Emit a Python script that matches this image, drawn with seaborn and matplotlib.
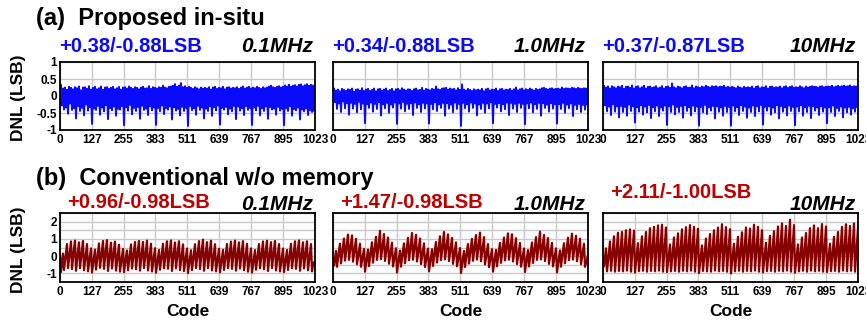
import numpy as np
import matplotlib
matplotlib.use('Agg')
import matplotlib.pyplot as plt
import seaborn as sns

# x axis: output code (256 sampled codes across the 10-bit range)
codes = np.linspace(0, 1023, 256)
code_ticks = [0, 127, 255, 383, 511, 639, 767, 895, 1023]

# (a) proposed in-situ, DNL in LSB
insitu_01mhz = [
    -0.30, 0.33, -0.28, 0.22, -0.40, 0.25, -0.34, 0.18, -0.52, 0.27, -0.22, 0.24, -0.41, 0.20, -0.36, 0.26,
    -0.66, 0.23, -0.30, 0.28, -0.44, 0.17, -0.35, 0.25, -0.57, 0.26, -0.25, 0.21, -0.43, 0.29, -0.33, 0.19,
    -0.82, 0.24, -0.37, 0.27, -0.41, 0.20, -0.29, 0.23, -0.55, 0.28, -0.34, 0.18, -0.45, 0.25, -0.27, 0.26,
    -0.68, 0.21, -0.36, 0.24, -0.42, 0.27, -0.31, 0.20, -0.58, 0.23, -0.38, 0.27, -0.40, 0.19, -0.30, 0.25,
    -0.86, 0.26, -0.33, 0.22, -0.43, 0.28, -0.26, 0.24, -0.54, 0.21, -0.35, 0.26, -0.44, 0.24, -0.32, 0.20,
    -0.67, 0.25, -0.29, 0.27, -0.41, 0.22, -0.37, 0.23, -0.56, 0.29, -0.30, 0.21, -0.42, 0.26, -0.34, 0.24,
    -0.85, 0.22, -0.35, 0.26, -0.45, 0.24, -0.28, 0.30, -0.53, 0.25, -0.36, 0.23, -0.40, 0.27, -0.31, 0.28,
    -0.69, 0.30, -0.33, 0.35, -0.43, 0.27, -0.38, 0.31, -0.57, 0.38, -0.32, 0.26, -0.44, 0.29, -0.35, 0.24,
    -0.88, 0.27, -0.30, 0.24, -0.42, 0.21, -0.36, 0.26, -0.55, 0.23, -0.29, 0.20, -0.41, 0.25, -0.34, 0.22,
    -0.66, 0.24, -0.37, 0.22, -0.44, 0.26, -0.30, 0.19, -0.58, 0.25, -0.33, 0.27, -0.42, 0.21, -0.28, 0.24,
    -0.84, 0.23, -0.35, 0.27, -0.40, 0.20, -0.32, 0.25, -0.54, 0.26, -0.37, 0.22, -0.45, 0.24, -0.29, 0.23,
    -0.68, 0.26, -0.31, 0.21, -0.43, 0.25, -0.36, 0.28, -0.56, 0.22, -0.30, 0.25, -0.41, 0.27, -0.35, 0.22,
    -0.85, 0.25, -0.34, 0.23, -0.42, 0.27, -0.29, 0.24, -0.57, 0.21, -0.36, 0.26, -0.44, 0.23, -0.31, 0.25,
    -0.67, 0.28, -0.33, 0.30, -0.40, 0.26, -0.37, 0.24, -0.55, 0.27, -0.32, 0.29, -0.43, 0.25, -0.38, 0.27,
    -0.86, 0.31, -0.36, 0.28, -0.44, 0.33, -0.30, 0.27, -0.58, 0.30, -0.39, 0.32, -0.42, 0.28, -0.34, 0.33,
    -0.69, 0.34, -0.40, 0.29, -0.45, 0.32, -0.37, 0.35, -0.56, 0.30, -0.42, 0.33, -0.47, 0.31, -0.44, 0.28,
]
insitu_1mhz = [
    -0.25, 0.22, -0.18, 0.16, -0.38, 0.19, -0.22, 0.14, -0.47, 0.21, -0.16, 0.18, -0.36, 0.15, -0.21, 0.20,
    -0.55, 0.18, -0.20, 0.22, -0.37, 0.13, -0.23, 0.19, -0.48, 0.20, -0.17, 0.16, -0.39, 0.23, -0.22, 0.15,
    -0.80, 0.19, -0.24, 0.21, -0.35, 0.15, -0.19, 0.18, -0.46, 0.22, -0.23, 0.14, -0.38, 0.20, -0.18, 0.21,
    -0.57, 0.16, -0.24, 0.19, -0.36, 0.22, -0.20, 0.15, -0.49, 0.18, -0.25, 0.21, -0.34, 0.14, -0.19, 0.20,
    -0.82, 0.21, -0.22, 0.17, -0.37, 0.23, -0.17, 0.19, -0.45, 0.16, -0.23, 0.20, -0.38, 0.19, -0.21, 0.15,
    -0.56, 0.20, -0.19, 0.22, -0.35, 0.17, -0.24, 0.18, -0.47, 0.24, -0.20, 0.16, -0.36, 0.21, -0.22, 0.19,
    -0.81, 0.17, -0.23, 0.21, -0.39, 0.19, -0.18, 0.28, -0.44, 0.20, -0.24, 0.18, -0.35, 0.22, -0.20, 0.23,
    -0.58, 0.24, -0.21, 0.19, -0.37, 0.22, -0.25, 0.20, -0.48, 0.21, -0.19, 0.17, -0.38, 0.23, -0.23, 0.18,
    -0.88, 0.34, -0.20, 0.19, -0.36, 0.16, -0.24, 0.21, -0.46, 0.18, -0.19, 0.15, -0.35, 0.20, -0.22, 0.17,
    -0.57, 0.19, -0.25, 0.17, -0.38, 0.21, -0.20, 0.14, -0.49, 0.20, -0.22, 0.22, -0.36, 0.16, -0.18, 0.19,
    -0.80, 0.18, -0.23, 0.22, -0.34, 0.15, -0.21, 0.20, -0.45, 0.21, -0.24, 0.17, -0.39, 0.19, -0.19, 0.18,
    -0.56, 0.21, -0.20, 0.16, -0.37, 0.20, -0.23, 0.25, -0.47, 0.17, -0.20, 0.20, -0.35, 0.22, -0.23, 0.17,
    -0.83, 0.20, -0.22, 0.18, -0.36, 0.22, -0.19, 0.19, -0.48, 0.16, -0.24, 0.21, -0.38, 0.18, -0.20, 0.20,
    -0.58, 0.23, -0.21, 0.24, -0.35, 0.21, -0.25, 0.19, -0.46, 0.22, -0.21, 0.23, -0.37, 0.20, -0.24, 0.21,
    -0.81, 0.22, -0.24, 0.20, -0.38, 0.25, -0.20, 0.21, -0.49, 0.23, -0.25, 0.22, -0.36, 0.21, -0.22, 0.24,
    -0.59, 0.23, -0.26, 0.21, -0.39, 0.24, -0.23, 0.22, -0.47, 0.21, -0.26, 0.23, -0.40, 0.22, -0.25, 0.19,
]
insitu_10mhz = [
    -0.35, 0.30, -0.27, 0.25, -0.45, 0.28, -0.31, 0.22, -0.56, 0.29, -0.24, 0.26, -0.46, 0.23, -0.30, 0.28,
    -0.63, 0.26, -0.29, 0.30, -0.47, 0.21, -0.32, 0.27, -0.58, 0.28, -0.25, 0.24, -0.44, 0.31, -0.30, 0.22,
    -0.78, 0.27, -0.33, 0.29, -0.46, 0.23, -0.27, 0.26, -0.55, 0.30, -0.31, 0.22, -0.48, 0.27, -0.26, 0.28,
    -0.65, 0.24, -0.33, 0.26, -0.45, 0.29, -0.28, 0.23, -0.59, 0.25, -0.34, 0.29, -0.43, 0.22, -0.28, 0.27,
    -0.85, 0.28, -0.30, 0.24, -0.47, 0.37, -0.25, 0.26, -0.54, 0.23, -0.32, 0.28, -0.47, 0.26, -0.29, 0.23,
    -0.64, 0.27, -0.27, 0.29, -0.44, 0.24, -0.33, 0.25, -0.57, 0.31, -0.28, 0.23, -0.45, 0.28, -0.31, 0.26,
    -0.87, 0.24, -0.32, 0.28, -0.48, 0.26, -0.26, 0.30, -0.53, 0.27, -0.33, 0.25, -0.43, 0.29, -0.29, 0.27,
    -0.66, 0.29, -0.30, 0.26, -0.46, 0.28, -0.34, 0.27, -0.58, 0.30, -0.29, 0.25, -0.47, 0.27, -0.32, 0.24,
    -0.87, 0.27, -0.28, 0.25, -0.45, 0.23, -0.33, 0.28, -0.56, 0.25, -0.27, 0.23, -0.44, 0.27, -0.31, 0.24,
    -0.64, 0.26, -0.34, 0.24, -0.47, 0.28, -0.28, 0.22, -0.59, 0.27, -0.30, 0.29, -0.45, 0.23, -0.26, 0.26,
    -0.84, 0.25, -0.32, 0.29, -0.43, 0.22, -0.30, 0.27, -0.55, 0.28, -0.34, 0.24, -0.48, 0.26, -0.27, 0.25,
    -0.66, 0.28, -0.29, 0.23, -0.46, 0.27, -0.33, 0.29, -0.57, 0.24, -0.28, 0.27, -0.44, 0.29, -0.32, 0.24,
    -0.86, 0.26, -0.31, 0.25, -0.45, 0.29, -0.27, 0.26, -0.58, 0.23, -0.33, 0.28, -0.47, 0.25, -0.29, 0.27,
    -0.65, 0.29, -0.30, 0.27, -0.43, 0.27, -0.34, 0.25, -0.56, 0.28, -0.30, 0.29, -0.46, 0.26, -0.34, 0.27,
    -0.80, 0.28, -0.33, 0.27, -0.47, 0.30, -0.28, 0.26, -0.59, 0.28, -0.35, 0.30, -0.44, 0.27, -0.31, 0.29,
    -0.63, 0.30, -0.34, 0.28, -0.48, 0.29, -0.32, 0.31, -0.55, 0.27, -0.36, 0.29, -0.46, 0.28, -0.33, 0.30,
]

# (b) conventional w/o memory, DNL in LSB
conv_01mhz = [
    0.00, -0.92, -0.40, 0.15, -0.80, -0.30, 0.20, 0.70, -0.70, -0.20, 0.35, 0.85, -0.75, -0.15, 0.45, 0.90,
    -0.85, -0.25, 0.30, 0.80, -0.70, -0.15, 0.40, 0.88, -0.82, -0.30, 0.20, 0.70, -0.88, -0.45, 0.00, 0.45,
    -0.95, -0.52, -0.06, 0.38, -0.78, -0.28, 0.24, 0.74, -0.68, -0.18, 0.38, 0.88, -0.74, -0.12, 0.48, 0.93,
    -0.86, -0.26, 0.28, 0.78, -0.72, -0.16, 0.38, 0.84, -0.84, -0.32, 0.18, 0.66, -0.90, -0.46, -0.02, 0.42,
    -0.93, -0.48, -0.03, 0.33, -0.82, -0.32, 0.18, 0.68, -0.72, -0.22, 0.33, 0.82, -0.76, -0.16, 0.44, 0.88,
    -0.84, -0.24, 0.32, 0.82, -0.69, -0.14, 0.42, 0.90, -0.83, -0.31, 0.21, 0.72, -0.89, -0.44, 0.01, 0.46,
    -0.96, -0.51, -0.07, 0.36, -0.79, -0.29, 0.22, 0.72, -0.71, -0.21, 0.36, 0.86, -0.73, -0.14, 0.46, 0.91,
    -0.86, -0.27, 0.29, 0.79, -0.71, -0.15, 0.39, 0.86, -0.81, -0.29, 0.19, 0.68, -0.87, -0.43, 0.02, 0.44,
    -0.98, -0.53, -0.04, 0.34, -0.81, -0.31, 0.19, 0.69, -0.69, -0.19, 0.37, 0.87, -0.75, -0.13, 0.47, 0.96,
    -0.85, -0.25, 0.31, 0.81, -0.70, -0.14, 0.41, 0.89, -0.83, -0.31, 0.19, 0.69, -0.88, -0.45, -0.01, 0.43,
    -0.94, -0.49, -0.05, 0.37, -0.80, -0.30, 0.21, 0.71, -0.70, -0.20, 0.34, 0.84, -0.74, -0.16, 0.45, 0.90,
    -0.84, -0.26, 0.30, 0.80, -0.72, -0.16, 0.39, 0.87, -0.82, -0.30, 0.20, 0.71, -0.90, -0.46, 0.00, 0.45,
    -0.95, -0.50, -0.06, 0.35, -0.79, -0.29, 0.20, 0.70, -0.71, -0.19, 0.36, 0.85, -0.76, -0.15, 0.44, 0.89,
    -0.86, -0.24, 0.31, 0.81, -0.70, -0.15, 0.40, 0.88, -0.83, -0.31, 0.19, 0.70, -0.89, -0.44, 0.01, 0.44,
    -0.93, -0.51, -0.05, 0.36, -0.80, -0.30, 0.21, 0.72, -0.70, -0.21, 0.35, 0.86, -0.74, -0.14, 0.45, 0.91,
    -0.85, -0.26, 0.29, 0.80, -0.71, -0.16, 0.39, 0.86, -0.82, -0.30, 0.20, 0.70, -0.88, -0.50, -0.35, -0.30,
]
conv_1mhz = [
    -0.10, -0.55, -0.10, 0.30, -0.62, -0.12, 0.33, 0.72, -0.42, 0.08, 0.58, 1.02, -0.26, 0.22, 0.78, 1.25,
    -0.22, 0.24, 0.72, 1.20, -0.32, 0.12, 0.58, 1.00, -0.47, -0.06, 0.33, 0.72, -0.62, -0.27, 0.08, 0.42,
    -0.90, -0.46, -0.04, 0.38, -0.58, -0.08, 0.38, 0.80, -0.38, 0.12, 0.64, 1.12, -0.22, 0.30, 0.88, 1.47,
    -0.18, 0.28, 0.78, 1.28, -0.28, 0.16, 0.62, 1.08, -0.44, -0.04, 0.36, 0.78, -0.60, -0.24, 0.12, 0.46,
    -0.95, -0.50, -0.08, 0.32, -0.61, -0.11, 0.34, 0.74, -0.41, 0.09, 0.60, 1.06, -0.24, 0.26, 0.82, 1.34,
    -0.21, 0.26, 0.76, 1.24, -0.31, 0.14, 0.59, 1.02, -0.46, -0.05, 0.34, 0.74, -0.63, -0.26, 0.09, 0.43,
    -0.88, -0.44, -0.03, 0.40, -0.57, -0.07, 0.40, 0.82, -0.37, 0.13, 0.66, 1.15, -0.23, 0.28, 0.86, 1.40,
    -0.19, 0.27, 0.77, 1.26, -0.29, 0.15, 0.61, 1.06, -0.45, -0.03, 0.37, 0.79, -0.59, -0.23, 0.13, 0.47,
    -0.98, -0.52, -0.09, 0.30, -0.63, -0.13, 0.32, 0.70, -0.43, 0.07, 0.57, 1.00, -0.27, 0.21, 0.76, 1.22,
    -0.20, 0.29, 0.80, 1.36, -0.30, 0.17, 0.63, 1.10, -0.48, -0.07, 0.31, 0.70, -0.64, -0.28, 0.07, 0.40,
    -0.90, -0.47, -0.05, 0.36, -0.59, -0.09, 0.36, 0.77, -0.39, 0.11, 0.62, 1.08, -0.25, 0.25, 0.84, 1.32,
    -0.21, 0.25, 0.75, 1.27, -0.31, 0.13, 0.57, 1.04, -0.46, -0.06, 0.34, 0.76, -0.61, -0.25, 0.10, 0.44,
    -0.92, -0.48, -0.06, 0.35, -0.60, -0.10, 0.37, 0.79, -0.40, 0.10, 0.63, 1.10, -0.22, 0.29, 0.87, 1.42,
    -0.19, 0.27, 0.78, 1.23, -0.29, 0.14, 0.60, 1.05, -0.45, -0.04, 0.35, 0.77, -0.60, -0.24, 0.11, 0.45,
    -0.94, -0.50, -0.07, 0.33, -0.61, -0.11, 0.35, 0.75, -0.41, 0.09, 0.61, 1.07, -0.24, 0.27, 0.83, 1.30,
    -0.20, 0.26, 0.74, 1.18, -0.30, 0.13, 0.58, 1.01, -0.47, -0.06, 0.32, 0.72, -0.62, -0.40, -0.20, 0.10,
]
conv_10mhz = [
    0.00, -0.60, -0.10, 0.45, -0.88, -0.30, 0.30, 0.85, -0.85, -0.18, 0.50, 1.15, -0.90, -0.12, 0.62, 1.35,
    -0.86, -0.08, 0.66, 1.40, -0.88, -0.05, 0.72, 1.50, -0.84, 0.00, 0.80, 1.55, -0.90, -0.02, 0.75, 1.48,
    -0.95, -0.35, 0.20, 0.75, -0.87, -0.20, 0.48, 1.15, -0.85, -0.10, 0.65, 1.40, -0.90, -0.05, 0.80, 1.62,
    -0.86, 0.00, 0.85, 1.70, -0.88, 0.02, 0.88, 1.78, -0.84, 0.05, 0.92, 1.82, -0.90, 0.00, 0.84, 1.66,
    -0.92, -0.38, 0.15, 0.68, -0.88, -0.22, 0.42, 1.08, -0.86, -0.12, 0.60, 1.32, -0.90, -0.06, 0.76, 1.55,
    -0.85, -0.02, 0.83, 1.68, -0.88, 0.03, 0.90, 1.80, -0.84, 0.02, 0.85, 1.70, -0.90, -0.03, 0.78, 1.58,
    -0.98, -0.40, 0.12, 0.62, -0.86, -0.24, 0.40, 1.02, -0.88, -0.14, 0.56, 1.28, -0.90, -0.08, 0.72, 1.50,
    -0.84, -0.02, 0.82, 1.66, -0.88, 0.04, 0.92, 1.85, -0.86, 0.00, 0.84, 1.68, -0.90, -0.04, 0.76, 1.56,
    -1.00, -0.36, 0.18, 0.72, -0.88, -0.20, 0.46, 1.12, -0.85, -0.10, 0.63, 1.38, -0.90, -0.04, 0.80, 1.66,
    -0.86, -0.02, 0.80, 1.60, -0.88, 0.05, 0.93, 1.82, -0.84, 0.01, 0.86, 1.70, -0.90, -0.05, 0.72, 1.50,
    -0.94, -0.34, 0.22, 0.78, -0.87, -0.18, 0.50, 1.18, -0.86, -0.08, 0.68, 1.45, -0.90, -0.02, 0.84, 1.72,
    -0.85, 0.04, 0.94, 1.90, -0.88, 0.02, 0.88, 1.75, -0.84, 0.12, 1.10, 2.11, -0.90, 0.02, 0.90, 1.80,
    -0.96, -0.38, 0.16, 0.68, -0.88, -0.22, 0.44, 1.08, -0.85, -0.12, 0.60, 1.34, -0.90, -0.06, 0.76, 1.62,
    -0.84, 0.00, 0.86, 1.78, -0.88, -0.02, 0.80, 1.62, -0.85, 0.04, 0.92, 1.86, -0.90, 0.00, 0.85, 1.72,
    -0.92, -0.36, 0.18, 0.72, -0.87, -0.20, 0.47, 1.12, -0.86, -0.10, 0.64, 1.40, -0.90, -0.04, 0.80, 1.70,
    -0.84, 0.02, 0.90, 1.85, -0.88, 0.00, 0.86, 1.75, -0.85, 0.03, 0.92, 1.90, -0.90, -0.02, 0.80, 1.62,
]

freqs = ['0.1MHz', '1.0MHz', '10MHz']
insitu_labels = ['+0.38/-0.88LSB', '+0.34/-0.88LSB', '+0.37/-0.87LSB']
conv_labels = ['+0.96/-0.98LSB', '+1.47/-0.98LSB', '+2.11/-1.00LSB']

BLUE = '#0a0aff'
DARKRED = '#870000'
LABELRED = '#c00000'

sns.set_theme(style='white')
plt.rcParams['font.family'] = ['Liberation Sans', 'DejaVu Sans']
plt.rcParams['text.color'] = 'black'
plt.rcParams['xtick.color'] = 'black'
plt.rcParams['ytick.color'] = 'black'

TICK_FONT = dict(family=['Liberation Sans', 'DejaVu Sans'], weight='bold', size=8.5)

W, H = 866, 320
fig = plt.figure(figsize=(W / 100, H / 100), dpi=100)

lefts = [60, 333, 603]
width = 255


def add_axes(left, top, bottom):
    return fig.add_axes([left / W, (H - bottom) / H, width / W, (bottom - top) / H])


def style_axes(ax, ylim, major, minor, first):
    ax.set_xlim(0, 1023)
    ax.set_ylim(*ylim)
    ax.set_xticks(code_ticks)
    ax.set_xticklabels([str(c) for c in code_ticks], fontdict=TICK_FONT)
    ax.set_yticks(major)
    ax.set_yticks(minor, minor=True)
    if first:
        ax.set_yticklabels([f'{v:g}' for v in major], fontdict=TICK_FONT)
    else:
        ax.set_yticklabels([])
    ax.grid(which='both', color='#c8c8c8', linewidth=1.0)
    ax.set_axisbelow(True)
    ax.tick_params(axis='both', which='both', direction='in', length=3, width=0.8,
                   color='#333333', pad=2)
    ax.tick_params(axis='x', pad=3)
    for sp in ax.spines.values():
        sp.set_color('black')
        sp.set_linewidth(1.3)
    ax.set_xlabel('')
    ax.set_ylabel('')


insitu = [insitu_01mhz, insitu_1mhz, insitu_10mhz]
conv = [conv_01mhz, conv_1mhz, conv_10mhz]

for i in range(3):
    ax = add_axes(lefts[i], 62, 130)
    sns.lineplot(x=codes, y=insitu[i], ax=ax, color=BLUE, linewidth=1.4)
    style_axes(ax, (-1, 1), [-1, -0.5, 0, 0.5, 1], [], i == 0)
    fig.text((lefts[i] - 1) / W, (H - 47) / H, insitu_labels[i], color=BLUE,
             fontsize=14.5, fontweight='bold', ha='left', va='center')
    fig.text((lefts[i] + width - 2) / W, (H - 47) / H, freqs[i], color='black',
             fontsize=15, fontweight='bold', fontstyle='italic', ha='right', va='center')

    ax = add_axes(lefts[i], 213, 282)
    sns.lineplot(x=codes, y=conv[i], ax=ax, color=DARKRED, linewidth=1.6)
    style_axes(ax, (-1.5, 2.5), [-1, 0, 1, 2], [-1.5, -0.5, 0.5, 1.5, 2.5], i == 0)
    label_y = 193 if i == 2 else 203
    fig.text((lefts[i] + 7) / W, (H - label_y) / H, conv_labels[i], color=LABELRED,
             fontsize=14.5, fontweight='bold', ha='left', va='center')
    fig.text((lefts[i] + width - 2) / W, (H - 205) / H, freqs[i], color='black',
             fontsize=15, fontweight='bold', fontstyle='italic', ha='right', va='center')
    fig.text((lefts[i] + width / 2) / W, (H - 311) / H, 'Code', fontsize=12.5,
             fontweight='bold', ha='center', va='center')

fig.text(36 / W, (H - 18) / H, '(a)  Proposed in-situ', fontsize=17,
         fontweight='bold', ha='left', va='center')
fig.text(36 / W, (H - 178) / H, '(b)  Conventional w/o memory', fontsize=17,
         fontweight='bold', ha='left', va='center')
fig.text(19 / W, (H - 98) / H, 'DNL (LSB)', fontsize=12.5, fontweight='bold',
         rotation=90, ha='center', va='center')
fig.text(19 / W, (H - 250) / H, 'DNL (LSB)', fontsize=12.5, fontweight='bold',
         rotation=90, ha='center', va='center')

fig.savefig('out.png', dpi=100)
plt.close(fig)
